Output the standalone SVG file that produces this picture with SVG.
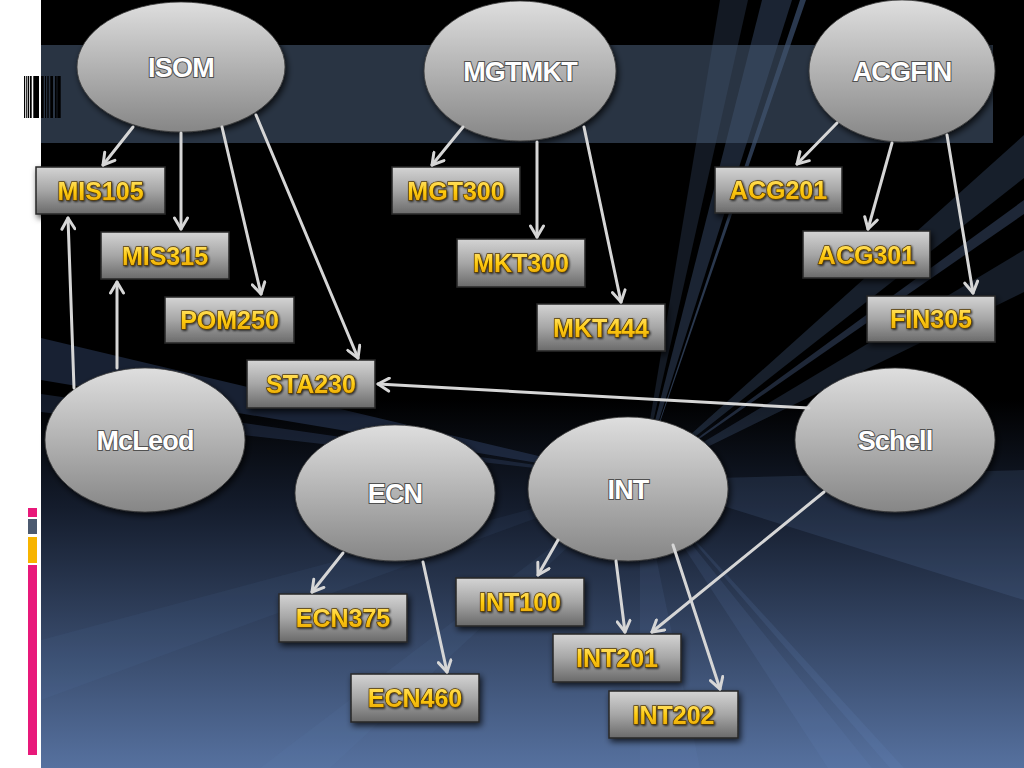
<svg xmlns="http://www.w3.org/2000/svg" width="1024" height="768" viewBox="0 0 1024 768">
<defs>
  <linearGradient id="bg" x1="0" y1="0" x2="0" y2="1">
    <stop offset="0" stop-color="#000000"/>
    <stop offset="0.52" stop-color="#000000"/>
    <stop offset="0.66" stop-color="#141c2c"/>
    <stop offset="1" stop-color="#56719f"/>
  </linearGradient>
  <linearGradient id="ellFill" x1="0" y1="0" x2="0" y2="1">
    <stop offset="0" stop-color="#dedede"/>
    <stop offset="1" stop-color="#868686"/>
  </linearGradient>
  <linearGradient id="boxFill" x1="0" y1="0" x2="0" y2="1">
    <stop offset="0" stop-color="#d4d4d4"/>
    <stop offset="0.5" stop-color="#a6a6a6"/>
    <stop offset="1" stop-color="#6a6a6a"/>
  </linearGradient>
  <linearGradient id="gold" x1="0" y1="0" x2="0" y2="1">
    <stop offset="0" stop-color="#ffe680"/>
    <stop offset="0.5" stop-color="#ffcc11"/>
    <stop offset="1" stop-color="#e6a200"/>
  </linearGradient>
  <filter id="shadow" x="-20%" y="-20%" width="150%" height="160%">
    <feDropShadow dx="2" dy="3" stdDeviation="3" flood-color="#000" flood-opacity="0.75"/>
  </filter>
  <filter id="tshadow" x="-10%" y="-20%" width="130%" height="150%">
    <feDropShadow dx="1" dy="1" stdDeviation="0.8" flood-color="#000" flood-opacity="0.8"/>
  </filter>
  <marker id="arrow" viewBox="0 0 16 16" refX="14" refY="8" markerWidth="16" markerHeight="16" markerUnits="userSpaceOnUse" orient="auto">
    <path d="M3,1.5 L14,8 L3,14.5" fill="none" stroke="#d6d6d6" stroke-width="3" stroke-linecap="round" stroke-linejoin="round"/>
  </marker>
</defs>
<style>
  .ell { fill: url(#ellFill); stroke: #3a3a3a; stroke-width: 0.8; filter: url(#shadow); }
  .box { fill: url(#boxFill); stroke: #262626; stroke-width: 1.5; filter: url(#shadow); }
  .etext { font-family: "Liberation Sans", Arial, sans-serif; font-weight: bold; font-size: 27px; fill: #ffffff; stroke: #505050; stroke-width: 2; paint-order: stroke; text-anchor: middle; letter-spacing: -0.8px; }
  .btext { font-family: "Liberation Sans", Arial, sans-serif; font-weight: bold; font-size: 25px; fill: url(#gold); stroke: #5a3d00; stroke-width: 1.4; paint-order: stroke; text-anchor: middle; filter: url(#tshadow); }
  .conn line { stroke: #d6d6d6; stroke-width: 3; stroke-linecap: round; marker-end: url(#arrow); }
  .ray { fill: #6a8cc4; }
  .dray { fill: #2c3c5c; }
</style>

<!-- background -->
<rect x="0" y="0" width="1024" height="768" fill="#ffffff"/>
<rect x="41" y="0" width="983" height="768" fill="url(#bg)"/>
<g id="rays">
  <polygon class="ray" opacity="0.18" points="640,480 720,0 748,0"/>
  <polygon class="ray" opacity="0.26" points="640,480 762,0 792,0"/>
  <polygon class="ray" opacity="0.40" points="640,480 800,0 806,0"/>
  <polygon class="ray" opacity="0.22" points="640,480 1024,135 1024,178"/>
  <polygon class="ray" opacity="0.28" points="640,480 1024,200 1024,214"/>
  <polygon class="ray" opacity="0.20" points="640,480 1024,250 1024,292"/>
  <polygon class="ray" opacity="0.15" points="640,480 1024,470 1024,600"/>
  <polygon class="ray" opacity="0.12" points="640,480 828,768 872,768"/>
  <polygon class="ray" opacity="0.14" points="640,480 890,768 904,768"/>
  <polygon class="ray" opacity="0.10" points="640,480 640,768 700,768"/>
  <polygon class="ray" opacity="0.08" points="640,480 260,768 330,768"/>
  <polygon class="ray" opacity="0.07" points="640,480 41,640 41,700"/>
  <polygon class="dray" opacity="0.55" points="640,480 41,338 41,380"/>
  <polygon class="dray" opacity="0.45" points="640,480 41,394 41,412"/>
</g>
<rect x="41" y="45" width="952" height="98" fill="#455670" opacity="0.6"/>

<!-- barcode -->
<g id="barcode" fill="#000000">
  <rect x="24" y="76" width="1.2" height="42"/>
  <rect x="26.2" y="76" width="1" height="42"/>
  <rect x="27.8" y="76" width="1.4" height="42"/>
  <rect x="30" y="76" width="1.7" height="42"/>
  <rect x="33.3" y="76" width="5.7" height="42"/>
  <rect x="41" y="76" width="2.7" height="42"/>
  <rect x="45" y="76" width="1.1" height="42"/>
  <rect x="47.3" y="76" width="1.4" height="42"/>
  <rect x="50.3" y="76" width="2.7" height="42"/>
  <rect x="55" y="76" width="1.7" height="42"/>
  <rect x="57.3" y="76" width="3.4" height="42"/>
</g>

<!-- left colour bars -->
<g id="sidebars">
  <rect x="28" y="508" width="9" height="9" fill="#e8197a"/>
  <rect x="28" y="519" width="9" height="15" fill="#4c5a70"/>
  <rect x="28" y="537" width="9" height="26" fill="#f7b400"/>
  <rect x="28" y="565" width="9" height="190" fill="#e8197a"/>
</g>

<!-- ellipse nodes -->
<g id="ISOM"><ellipse class="ell" cx="181" cy="67" rx="104" ry="65"/><text class="etext" x="181" y="77">ISOM</text></g>
<g id="MGTMKT"><ellipse class="ell" cx="520" cy="71" rx="96" ry="70"/><text class="etext" x="520" y="81">MGTMKT</text></g>
<g id="ACGFIN"><ellipse class="ell" cx="902" cy="71" rx="93" ry="71"/><text class="etext" x="902" y="81">ACGFIN</text></g>
<g id="McLeod"><ellipse class="ell" cx="145" cy="440" rx="100" ry="72"/><text class="etext" x="145" y="450">McLeod</text></g>
<g id="ECN"><ellipse class="ell" cx="395" cy="493" rx="100" ry="68"/><text class="etext" x="395" y="503">ECN</text></g>
<g id="INT"><ellipse class="ell" cx="628" cy="489" rx="100" ry="72"/><text class="etext" x="628" y="499">INT</text></g>
<g id="Schell"><ellipse class="ell" cx="895" cy="440" rx="100" ry="72"/><text class="etext" x="895" y="450">Schell</text></g>

<!-- course boxes -->
<g id="MIS105"><rect class="box" x="36" y="167" width="129" height="47"/><text class="btext" x="100.5" y="200">MIS105</text></g>
<g id="MIS315"><rect class="box" x="101" y="232" width="128" height="47"/><text class="btext" x="165" y="265">MIS315</text></g>
<g id="POM250"><rect class="box" x="165" y="297" width="129" height="46"/><text class="btext" x="229.5" y="329">POM250</text></g>
<g id="STA230"><rect class="box" x="247" y="360" width="128" height="48"/><text class="btext" x="311" y="393">STA230</text></g>
<g id="MGT300"><rect class="box" x="392" y="167" width="128" height="47"/><text class="btext" x="456" y="200">MGT300</text></g>
<g id="MKT300"><rect class="box" x="457" y="239" width="128" height="48"/><text class="btext" x="521" y="272">MKT300</text></g>
<g id="MKT444"><rect class="box" x="537" y="304" width="128" height="47"/><text class="btext" x="601" y="337">MKT444</text></g>
<g id="ACG201"><rect class="box" x="715" y="167" width="127" height="46"/><text class="btext" x="778.5" y="199">ACG201</text></g>
<g id="ACG301"><rect class="box" x="803" y="231" width="127" height="47"/><text class="btext" x="866.5" y="264">ACG301</text></g>
<g id="FIN305"><rect class="box" x="867" y="296" width="128" height="46"/><text class="btext" x="931" y="328">FIN305</text></g>
<g id="ECN375"><rect class="box" x="279" y="594" width="128" height="48"/><text class="btext" x="343" y="627">ECN375</text></g>
<g id="ECN460"><rect class="box" x="351" y="674" width="128" height="48"/><text class="btext" x="415" y="707">ECN460</text></g>
<g id="INT100"><rect class="box" x="456" y="578" width="128" height="48"/><text class="btext" x="520" y="611">INT100</text></g>
<g id="INT201"><rect class="box" x="553" y="634" width="128" height="48"/><text class="btext" x="617" y="667">INT201</text></g>
<g id="INT202"><rect class="box" x="609" y="691" width="129" height="47"/><text class="btext" x="673.5" y="724">INT202</text></g>

<!-- connectors -->
<g id="connectors" class="conn">
  <line x1="133" y1="127" x2="103" y2="165"/>
  <line x1="181" y1="133" x2="181" y2="229"/>
  <line x1="222" y1="127" x2="261" y2="294"/>
  <line x1="256" y1="115" x2="358" y2="358"/>
  <line x1="74" y1="388" x2="68" y2="218"/>
  <line x1="117" y1="368" x2="117" y2="282"/>
  <line x1="809" y1="408" x2="378" y2="384"/>
  <line x1="463" y1="127" x2="432" y2="165"/>
  <line x1="537" y1="142" x2="537" y2="237"/>
  <line x1="584" y1="127" x2="621" y2="302"/>
  <line x1="837" y1="123" x2="797" y2="164"/>
  <line x1="892" y1="143" x2="868" y2="229"/>
  <line x1="947" y1="135" x2="973" y2="293"/>
  <line x1="343" y1="553" x2="312" y2="592"/>
  <line x1="423" y1="562" x2="447" y2="672"/>
  <line x1="558" y1="540" x2="538" y2="575"/>
  <line x1="616" y1="561" x2="625" y2="632"/>
  <line x1="673" y1="545" x2="720" y2="689"/>
  <line x1="824" y1="492" x2="652" y2="632"/>
</g>
</svg>
